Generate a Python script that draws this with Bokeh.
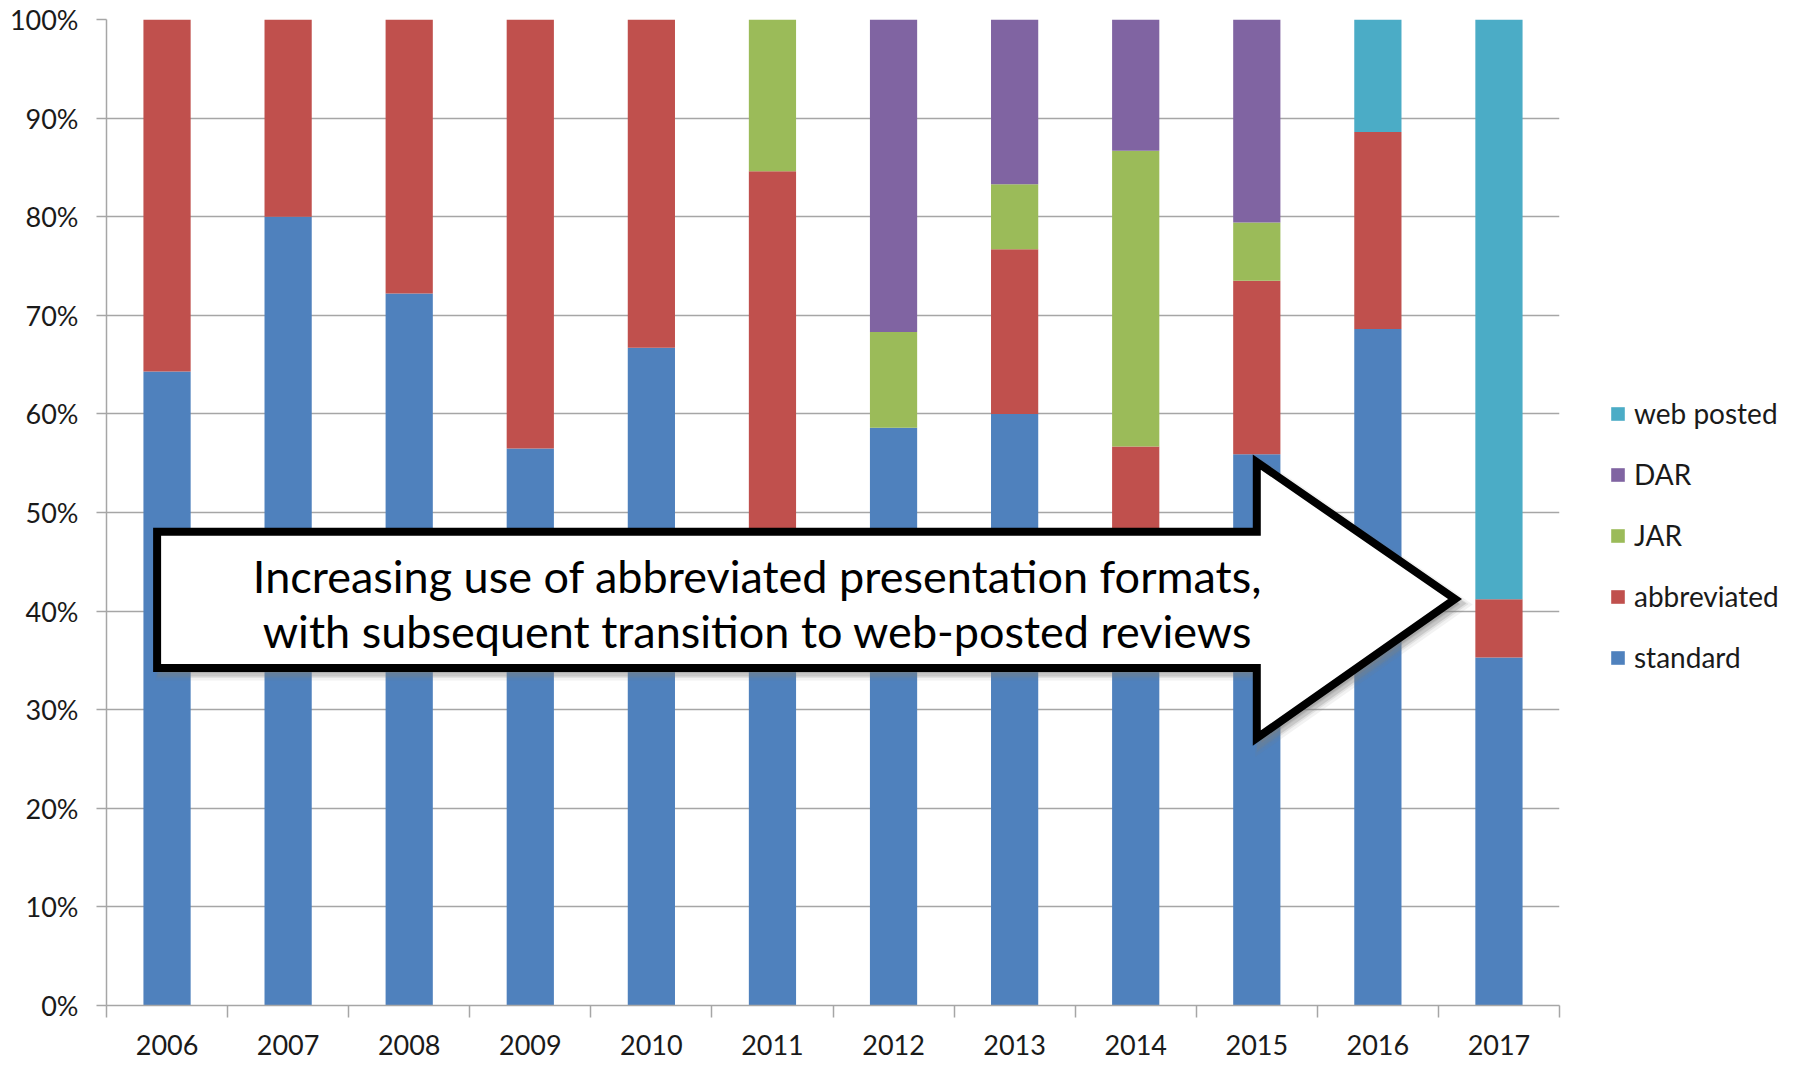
from bokeh.plotting import figure
from bokeh.layouts import row
from bokeh.models import (Range1d, FixedTicker, PrintfTickFormatter, Legend,
                          LegendItem, ColumnDataSource)
from bokeh.core.properties import value
from bokeh.embed import file_html
from bokeh.resources import INLINE

# ---------------- data (percent of each year's total) ----------------
years = [2006, 2007, 2008, 2009, 2010, 2011, 2012, 2013, 2014, 2015, 2016, 2017]
standard    = [64.3, 80.0, 72.2, 56.5, 66.7, 46.2, 58.6, 60.0, 43.3, 55.9, 68.6, 35.3]
abbreviated = [35.7, 20.0, 27.8, 43.5, 33.3, 38.4,  0.0, 16.7, 13.4, 17.6, 20.0,  5.9]
jar         = [ 0.0,  0.0,  0.0,  0.0,  0.0, 15.4,  9.7,  6.6, 30.0,  5.9,  0.0,  0.0]
dar         = [ 0.0,  0.0,  0.0,  0.0,  0.0,  0.0, 31.7, 16.7, 13.3, 20.6,  0.0,  0.0]
web_posted  = [ 0.0,  0.0,  0.0,  0.0,  0.0,  0.0,  0.0,  0.0,  0.0,  0.0, 11.4, 58.8]

series_keys = ["standard", "abbreviated", "JAR", "DAR", "web posted"]
series_colors = ["#4F81BD", "#C0504D", "#9BBB59", "#8064A2", "#4BACC6"]
y_ticks = [0, 10, 20, 30, 40, 50, 60, 70, 80, 90, 100]

annotation_lines = ["Increasing use of abbreviated presentation formats,",
                    "with subsequent transition to web-posted reviews"]

source = ColumnDataSource(data={
    "year": years,
    "standard": standard,
    "abbreviated": abbreviated,
    "JAR": jar,
    "DAR": dar,
    "web posted": web_posted,
})

FONT = "Lato"
GRID = "#A6A6A6"
TXT = "#1a1a1a"
H = 1066

p = figure(width=1561, height=H,
           x_range=Range1d(2005.5, 2017.5), y_range=Range1d(0, 100),
           output_backend="svg", toolbar_location=None,
           min_border_left=106, min_border_top=19, min_border_bottom=61,
           min_border_right=2)
p.outline_line_color = None
p.background_fill_color = "white"
p.border_fill_color = "white"

p.vbar_stack(series_keys, x="year", width=0.39, source=source,
             color=series_colors, line_color=None)

# ---------------- axes ----------------
xa = p.xaxis[0]
boundaries = [y - 0.5 for y in years] + [years[-1] + 0.5]
xa.ticker = FixedTicker(ticks=years, minor_ticks=boundaries)
xa.axis_line_color = GRID
xa.axis_line_width = 1.5
xa.major_tick_line_color = None
xa.major_tick_out = 0
xa.major_tick_in = 0
xa.minor_tick_line_color = GRID
xa.minor_tick_line_width = 1.5
xa.minor_tick_out = 12
xa.minor_tick_in = 0
xa.major_label_text_font = FONT
xa.major_label_text_font_size = "27px"
xa.major_label_text_color = TXT
xa.major_label_standoff = 17

ya = p.yaxis[0]
ya.ticker = FixedTicker(ticks=y_ticks)
ya.formatter = PrintfTickFormatter(format="%d%%")
ya.axis_line_color = GRID
ya.axis_line_width = 1.5
ya.major_tick_line_color = GRID
ya.major_tick_line_width = 1.5
ya.major_tick_out = 10
ya.major_tick_in = 0
ya.minor_tick_line_color = None
ya.major_label_text_font = FONT
ya.major_label_text_font_size = "27px"
ya.major_label_text_color = TXT
ya.major_label_standoff = 18

p.xgrid.grid_line_color = None
p.ygrid.ticker = FixedTicker(ticks=y_ticks)
p.ygrid.grid_line_color = GRID
p.ygrid.grid_line_width = 1.5

# ---------------- block arrow annotation ----------------
ax_left, ax_base, ax_tip = 2005.918, 2015.0, 2016.637
ay_top, ay_bot, ay_head_top, ay_head_bot, ay_tip = 48.06, 34.22, 55.11, 27.12, 41.22
arrow_x = [ax_left, ax_base, ax_base, ax_tip, ax_base, ax_base, ax_left]
arrow_y = [ay_top, ay_top, ay_head_top, ay_tip, ay_head_bot, ay_bot, ay_bot]

for dx, dy, lw, a in [(0.045, -0.55, 14, 0.10), (0.04, -0.5, 10, 0.15), (0.035, -0.45, 8, 0.25)]:
    p.patch([v + dx for v in arrow_x], [v + dy for v in arrow_y],
            fill_color="#808080", fill_alpha=a, line_color="#808080",
            line_alpha=a, line_width=lw, line_join="miter")
p.patch(arrow_x, arrow_y, fill_color="white", line_color="black",
        line_width=8, line_join="miter")

p.text(x=[2010.877, 2010.877], y=[43.55, 37.97], text=annotation_lines,
       text_font=value(FONT), text_font_size="45px", text_color="black",
       text_align="center", text_baseline="middle")

# ---------------- legend (in its own panel to the right) ----------------
# The same stacked series are drawn here outside the visible range, only so
# that the legend has real renderers to take its swatches from.
lg = figure(width=232, height=H, x_range=Range1d(0, 1), y_range=Range1d(-2, -1),
            output_backend="svg", toolbar_location=None,
            min_border=0, min_border_left=0, min_border_right=0,
            min_border_top=0, min_border_bottom=0)
lg.axis.visible = False
lg.grid.visible = False
lg.outline_line_color = None
lg.background_fill_color = "white"
lg.border_fill_color = "white"

lg_renderers = lg.vbar_stack(series_keys, x="year", width=0.39, source=source,
                             color=series_colors, line_color=None)
items = [LegendItem(label=k, renderers=[r]) for k, r in zip(series_keys, lg_renderers)]
items = items[::-1]

legend = Legend(items=items, location=(48, 331), orientation="vertical",
                border_line_color=None, background_fill_alpha=0,
                label_text_font=FONT, label_text_font_size="28px",
                label_text_color=TXT, glyph_width=17, glyph_height=17,
                label_height=31, label_standoff=8, spacing=27,
                padding=0, margin=0)
lg.add_layout(legend)

layout = row(p, lg, spacing=0)
open("out.html", "w").write(file_html(layout, INLINE))
